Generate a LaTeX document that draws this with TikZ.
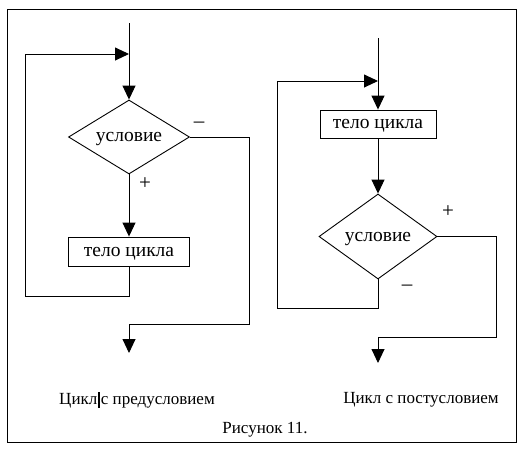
\documentclass[tikz,border=0pt]{standalone}
\usepackage{fontspec}
\setmainfont{Liberation Serif}
\usepackage{tikz}
\usetikzlibrary{shapes.geometric}
\usetikzlibrary{arrows.meta}
\usetikzlibrary{positioning}

\tikzset{
    arr/.style={-{Triangle[length=14pt,width=13pt]}},
    blockbox/.style={draw, rectangle, inner sep=0pt, text depth=0pt, font=\fontsize{19.5}{21}\selectfont},
    condbox/.style={draw, diamond, inner sep=0pt, text depth=0pt, font=\fontsize{19.5}{21}\selectfont},
    lbl/.style={font=\fontsize{17}{19}\selectfont},
    sgn/.style={font=\fontsize{21}{23}\selectfont}
}

\begin{document}
\begin{tikzpicture}[x=1pt, y=-1pt, line width=0.9pt]
    \useasboundingbox (0,0) rectangle (525,453);
    \draw[line width=1pt] (7,9) rectangle (516,442);

    % loop with precondition
    \coordinate (in1) at (129,23);
    \coordinate (join1) at (129,54);
    \coordinate (back1) at (25,54);
    \node[condbox, aspect=1.64, minimum width=121pt, minimum height=74pt] (cond1) at (129,137) {условие};
    \node[blockbox, minimum width=121pt, minimum height=29pt] (body1) at (129,251.5) {тело цикла};
    \coordinate (low1) at (129,296);
    \coordinate (lowleft1) at (25,296);
    \coordinate (right1) at (249,137);
    \coordinate (rightlow1) at (249,324);
    \coordinate (exit1) at (129,324);
    \coordinate (out1) at (129,353);

    \draw (in1) -- (join1);
    \draw[arr] (join1) -- (cond1.north);
    \draw[arr] (cond1.south) -- (body1.north);
    \draw[arr] (body1.south) -- (low1) -- (lowleft1) -- (back1) -- (join1);
    \draw[arr] (cond1.east) -- (right1) -- (rightlow1) -- (exit1) -- (out1);
    \node[sgn] (minus1) at (199,125) {–};
    \node[sgn] (plus1) at (145,184) {+};

    % loop with postcondition
    \coordinate (in2) at (378,38);
    \coordinate (join2) at (378,81);
    \coordinate (back2) at (277,81);
    \node[blockbox, minimum width=116pt, minimum height=28pt] (body2) at (378,124) {тело цикла};
    \node[condbox, aspect=1.39, minimum width=118pt, minimum height=85pt] (cond2) at (378,236.5) {условие};
    \coordinate (low2) at (378,308);
    \coordinate (lowleft2) at (277,308);
    \coordinate (right2) at (496,236.5);
    \coordinate (rightlow2) at (496,337);
    \coordinate (exit2) at (378,337);
    \coordinate (out2) at (378,363);

    \draw (in2) -- (join2);
    \draw[arr] (join2) -- (body2.north);
    \draw[arr] (body2.south) -- (cond2.north);
    \draw[arr] (cond2.south) -- (low2) -- (lowleft2) -- (back2) -- (join2);
    \draw[arr] (cond2.east) -- (right2) -- (rightlow2) -- (exit2) -- (out2);
    \node[sgn] (plus2) at (448,212) {+};
    \node[sgn] (minus2) at (407,288) {–};

    % captions
    \node[lbl] (cap1) at (137,400) {Цикл\kern1pt\rule[-3pt]{1.6pt}{16pt}\kern1ptс предусловием};
    \node[lbl] (cap2) at (421,400) {Цикл с постусловием};
    \node[lbl] (fig) at (265,430) {Рисунок 11.};
\end{tikzpicture}
\end{document}
